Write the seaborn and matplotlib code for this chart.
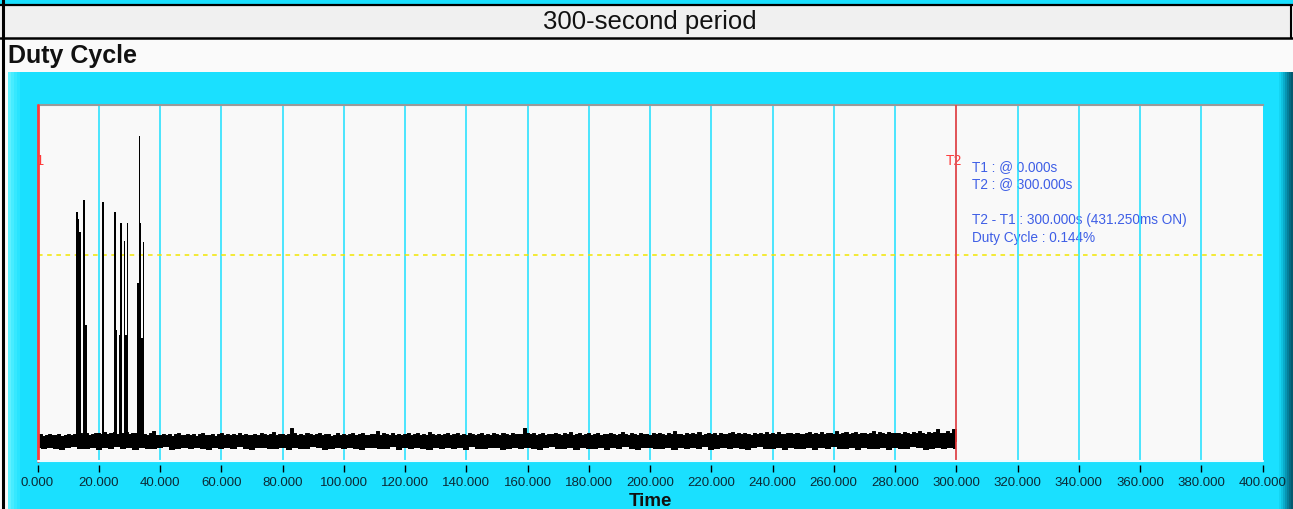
import numpy as np
import matplotlib
matplotlib.use("Agg")
import matplotlib.pyplot as plt
from matplotlib.patches import Rectangle
import seaborn as sns

# ---- data ----
title = "300-second period"
panel_name = "Duty Cycle"
x_label = "Time"
x_ticks = [0, 20, 40, 60, 80, 100, 120, 140, 160, 180, 200,
           220, 240, 260, 280, 300, 320, 340, 360, 380, 400]

# noise band: upper edge every 1 s, lower edge every 2 s, centre level
noise_mid = 5.5
hi_t = list(range(0, 301))
noise_hi = [7.2, 7.5, 7.1, 7.4, 7.6, 7.2, 7.3, 7.7, 7.1, 7.4,
            7.5, 7.2, 7.6, 7.3, 7.8, 7.5, 7.9, 7.4, 7.6, 7.8,
            8.0, 7.6, 8.2, 7.7, 7.9, 8.1, 7.6, 8.0, 7.8, 8.2,
            7.7, 8.0, 7.9, 8.3, 7.8, 7.6, 7.3, 7.9, 8.5, 7.4,
            7.2, 7.6, 7.3, 7.7, 7.1, 7.5, 7.8, 7.2, 7.4, 7.6,
            7.3, 7.7, 7.1, 7.5, 7.9, 7.2, 7.4, 7.6, 7.1, 7.5,
            7.8, 7.3, 7.5, 7.2, 7.7, 7.4, 8.0, 7.3, 7.6, 7.2,
            7.4, 7.7, 7.2, 7.9, 7.5, 7.3, 7.6, 8.1, 7.2, 7.5,
            7.7, 7.3, 7.6, 9.2, 7.8, 7.4, 7.6, 7.2, 7.8, 7.5,
            7.3, 7.6, 7.9, 7.2, 7.5, 7.7, 7.1, 7.4, 8.0, 7.3,
            7.6, 7.2, 7.5, 7.8, 7.3, 7.6, 7.9, 7.4, 7.2, 7.7,
            7.5, 8.5, 7.3, 7.9, 7.6, 7.2, 8.0, 7.4, 7.7, 7.3,
            7.6, 7.9, 7.2, 7.5, 7.8, 7.3, 7.6, 7.4, 8.1, 7.5,
            7.2, 7.7, 7.4, 7.6, 7.9, 7.3, 7.5, 7.8, 7.2, 7.6,
            7.4, 7.8, 7.5, 7.2, 7.7, 8.0, 7.3, 7.6, 7.4, 7.9,
            7.5, 7.2, 7.8, 7.6, 7.3, 7.9, 7.5, 7.7, 7.6, 9.4,
            8.0, 7.5, 7.8, 7.3, 7.6, 7.9, 7.4, 7.7, 7.5, 8.0,
            7.6, 7.3, 7.8, 7.5, 8.1, 7.4, 7.7, 7.9, 7.3, 7.6,
            7.8, 7.4, 7.6, 8.0, 7.3, 7.7, 7.5, 7.9, 7.6, 7.4,
            7.7, 8.2, 7.5, 7.3, 7.8, 7.6, 7.4, 7.9, 7.5, 7.7,
            7.4, 7.8, 7.6, 8.0, 7.5, 7.3, 7.9, 7.6, 8.3, 7.5,
            7.7, 7.4, 7.9, 7.6, 7.8, 7.5, 8.1, 7.4, 7.7, 7.9,
            7.6, 7.8, 7.4, 8.0, 7.7, 7.5, 7.9, 8.2, 7.6, 7.8,
            7.5, 7.9, 7.7, 7.4, 8.0, 7.6, 7.8, 7.5, 8.1, 7.7,
            7.9, 7.6, 8.2, 7.7, 7.5, 7.9, 7.8, 7.6, 8.0, 7.7,
            7.5, 7.8, 8.1, 7.6, 7.9, 7.7, 8.2, 7.5, 7.8, 8.0,
            7.7, 8.3, 7.6, 7.9, 8.1, 7.7, 7.8, 8.2, 7.6, 7.9,
            8.0, 7.7, 7.9, 8.3, 7.6, 8.1, 7.8, 7.7, 8.2, 7.9,
            7.8, 8.0, 7.6, 8.2, 7.9, 7.7, 8.1, 7.8, 8.4, 8.0,
            7.7, 8.1, 7.9, 8.2, 9.0, 7.8, 8.0, 8.3, 7.9, 8.9,
            8.9]
lo_t = list(range(0, 302, 2))
noise_lo = [3.6, 3.3, 3.7, 3.5, 3.2, 3.6, 3.8, 3.4, 3.3, 3.7,
            3.1, 3.6, 3.4, 3.8, 3.3, 3.6, 3.2, 3.7, 3.5, 3.3,
            3.6, 3.8, 3.1, 3.5, 3.7, 3.3, 3.6, 3.4, 3.2, 3.7,
            3.4, 3.6, 3.3, 3.8, 3.5, 3.1, 3.6, 3.7, 3.3, 3.4,
            3.6, 3.2, 3.7, 3.4, 3.3, 3.8, 3.6, 3.1, 3.5, 3.7,
            3.3, 3.6, 3.4, 3.2, 3.7, 3.6, 3.3, 3.5, 3.8, 3.2,
            3.6, 3.4, 3.7, 3.3, 3.1, 3.6, 3.5, 3.7, 3.3, 3.6,
            3.2, 3.8, 3.4, 3.3, 3.6, 3.7, 3.1, 3.5, 3.6, 3.3,
            3.7, 3.4, 3.2, 3.6, 3.8, 3.3, 3.5, 3.7, 3.1, 3.6,
            3.3, 3.4, 3.7, 3.2, 3.6, 3.5, 3.8, 3.3, 3.1, 3.6,
            3.7, 3.4, 3.3, 3.6, 3.2, 3.7, 3.5, 3.6, 3.3, 3.8,
            3.1, 3.4, 3.6, 3.3, 3.7, 3.5, 3.2, 3.6, 3.8, 3.3,
            3.5, 3.7, 3.1, 3.6, 3.3, 3.4, 3.7, 3.2, 3.6, 3.5,
            3.8, 3.3, 3.4, 3.6, 3.1, 3.7, 3.3, 3.5, 3.6, 3.2,
            3.7, 3.4, 3.3, 3.8, 3.6, 3.1, 3.5, 3.7, 3.3, 3.6,
            3.5]

# ON bursts: start time (s), duration (s), peak level
spike_start = [12.6, 13.2, 13.6, 15.0, 15.35, 20.9, 21.2, 25.0, 25.5, 26.7,
               27.1, 28.3, 28.7, 29.2, 32.4, 33.0, 33.4, 33.9, 34.3]
spike_width = [0.6, 0.4, 0.75, 0.35, 0.65, 0.3, 0.4, 0.5, 0.4, 0.4,
               0.4, 0.4, 0.5, 0.4, 0.6, 0.4, 0.5, 0.4, 0.4]
spike_top = [70.0, 68.0, 64.4, 73.4, 38.2, 37.9, 72.7, 70.0, 36.9, 35.4,
             66.9, 61.9, 35.4, 66.9, 50.0, 91.2, 66.9, 34.6, 61.4]
spike_base = 5.0

threshold = 57.9
t1, t2 = 0.0, 300.0
info_lines = ["T1 : @ 0.000s", "T2 : @ 300.000s",
              "T2 - T1 : 300.000s (431.250ms ON)", "Duty Cycle : 0.144%"]
info_y = [82.9, 78.1, 67.9, 62.8]

CYAN = "#1ae0ff"
BLUE = "#3f5fe6"
RED = "#ff3b3b"

sns.set_style("white")
plt.rcParams["font.family"] = ["Liberation Sans", "DejaVu Sans"]

W, H = 1293, 510
fig = plt.figure(figsize=(W / 100, H / 100), dpi=100)
fig.patch.set_facecolor("#fafafa")

# background sketch in pixel coordinates
bg = fig.add_axes([0, 0, 1, 1], zorder=0)
bg.set_xlim(0, W)
bg.set_ylim(H, 0)
bg.axis("off")
bg.add_patch(Rectangle((0, 0), W, 6, color=CYAN, lw=0))
bg.add_patch(Rectangle((0, 7), W, 31, color="#f0f0f0", lw=0))
bg.add_patch(Rectangle((0, 39), W, 34, color="#fafafa", lw=0))
bg.add_patch(Rectangle((8, 73), W - 8, H - 73, color=CYAN, lw=0))
for i, c in enumerate(["#5ff0ff", "#48ecff", "#36e8ff", "#28e4ff"]):
    bg.add_patch(Rectangle((8 + 3 * i, 73), 3, H - 73, color=c, lw=0))
for i, c in enumerate(["#14d4f2", "#0fc2e0", "#0aaccb", "#0795b3",
                       "#057f9a", "#046a82", "#035a70"]):
    bg.add_patch(Rectangle((1279 + 2 * i, 73), 2, H - 73, color=c, lw=0))
bg.plot([0, W], [6, 6], color="black", lw=1.6)
bg.plot([0, W], [38.5, 38.5], color="black", lw=1.8)
bg.plot([2.5, 2.5], [0, H], color="black", lw=2.2)
bg.plot([1291, 1291], [6, 39], color="black", lw=1.5)
bg.text(650, 22.5, title, ha="center", va="center", fontsize=18.5, color="#111111")
bg.text(8, 56, panel_name, ha="left", va="center", fontsize=18,
        fontweight="bold", color="#111111")

# plot area
ax = fig.add_axes([37.5 / W, (H - 462) / H, 1225 / W, 356 / H], zorder=1)
ax.set_facecolor("#f9f9f9")
ax.set_xlim(0, 400)
ax.set_ylim(0, 100)

for t in x_ticks[1:-1]:
    ax.axvline(t, color=CYAN, lw=1.1, zorder=2)

ax.axhline(threshold, color="#f2e600", lw=1.1, ls=(0, (3, 3)), zorder=2)

# noise band of the trace
ax.fill_between(hi_t, noise_mid, noise_hi, step="mid", color="black",
                lw=0, zorder=3)
ax.fill_between(lo_t, noise_lo, noise_mid, step="mid", color="black",
                lw=0, zorder=3)
sns.lineplot(x=hi_t, y=noise_hi, drawstyle="steps-mid", color="black",
             lw=0.7, ax=ax, zorder=3)

# ON bursts
ax.bar(spike_start, np.array(spike_top) - spike_base, width=spike_width,
       bottom=spike_base, align="edge", color="black", lw=0, zorder=3)

# cursors
ax.axvline(t1, color=RED, lw=2.0, zorder=4, clip_on=False)
ax.axvline(t2, color=RED, lw=1.2, zorder=4)
ax.text(t1 + 2.3, 84.6, "T1", color=RED, fontsize=10, ha="right",
        va="center", zorder=1, clip_on=True)
ax.text(t2 + 1.9, 84.6, "T2", color=RED, fontsize=10, ha="right",
        va="center", zorder=1)
for s, yv in zip(info_lines, info_y):
    ax.text(305, yv, s, color=BLUE, fontsize=9.8, ha="left", va="center",
            zorder=1)

for side in ["left", "right"]:
    ax.spines[side].set_visible(False)
ax.spines["top"].set_color("#9a9a9a")
ax.spines["top"].set_linewidth(1.5)
ax.spines["bottom"].set_position(("outward", 3))
ax.spines["bottom"].set_visible(False)
ax.plot([0, 1], [0, 0], transform=ax.transAxes, color="#eefbff", lw=1.5,
        clip_on=False, zorder=5)

ax.set_yticks([])
ax.set_xticks(x_ticks)
ax.set_xticklabels([f"{t:.3f}" for t in x_ticks],
                   fontfamily=["Liberation Sans Narrow", "Liberation Sans"],
                   fontsize=9.5, color="#0b2a36")
ax.tick_params(axis="x", bottom=True, direction="out", length=5, width=1,
               color="black", pad=2.5)
ax.set_xlabel(x_label, fontsize=13.5, fontweight="bold", labelpad=3.5,
              color="#111111")
ax.set_ylabel("")

fig.savefig("out.png", dpi=100)
